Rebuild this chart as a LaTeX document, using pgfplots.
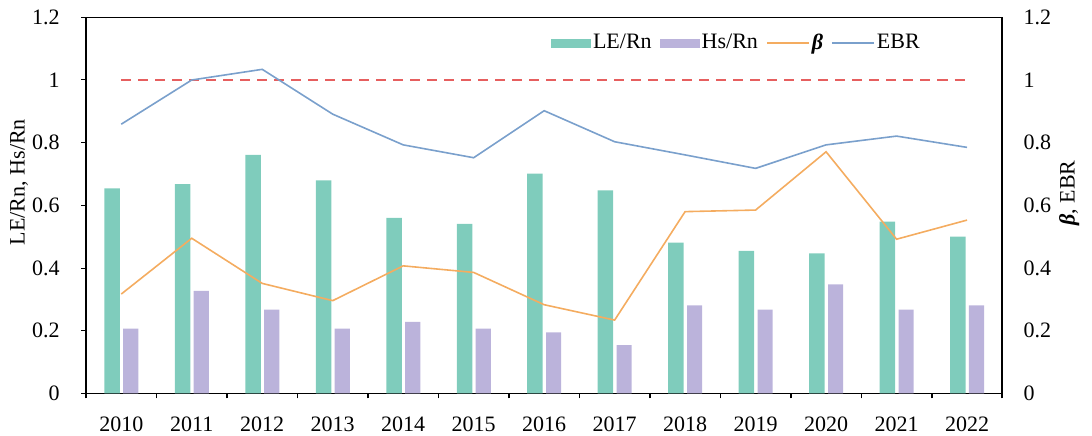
\documentclass[border=0pt]{standalone}
\usepackage{pgfplots}
\pgfplotsset{compat=1.18}
\usepackage{fontspec}
\setmainfont{Liberation Serif}
\definecolor{teal1}{RGB}{127,204,188}
\definecolor{purp}{RGB}{187,179,219}
\definecolor{orng}{RGB}{244,172,96}
\definecolor{blu}{RGB}{122,160,204}
\definecolor{redd}{RGB}{230,95,95}
\begin{document}
\fontsize{11}{13.2}\selectfont
\begin{tikzpicture}
\begin{axis}[name=main,
  scale only axis, width=458pt, height=188pt,
  xmin=-0.5, xmax=12.5, ymin=0, ymax=1.2,
  axis line style={line width=0.8pt},
  xtick={0,1,2,3,4,5,6,7,8,9,10,11,12},
  xticklabels={2010,2011,2012,2013,2014,2015,2016,2017,2018,2019,2020,2021,2022},
  major x tick style={draw=none},
  minor xtick={-0.5,0.5,1.5,2.5,3.5,4.5,5.5,6.5,7.5,8.5,9.5,10.5,11.5,12.5},
  minor x tick style={black, line width=0.8pt},
  minor tick length=2.5pt,
  major tick length=2.5pt,
  tick align=outside,
  xtick pos=lower, ytick pos=left,
  ytick={0,0.2,0.4,0.6,0.8,1,1.2},
  y tick style={black, line width=0.5pt},
  /pgf/number format/assume math mode=true,
  xticklabel style={inner sep=0pt, yshift=-9pt},
  yticklabel style={inner sep=0pt, xshift=-10.5pt},
  ylabel={LE/Rn, Hs/Rn},
  ylabel style={at={(axis description cs:-0.0731,0.562)}, anchor=center},
  legend columns=4,
  legend style={at={(axis description cs:0.5075,0.931)}, anchor=west,
    draw=none, fill=none, inner sep=0pt, outer sep=0pt,
    nodes={inner sep=1pt, anchor=west},
    /tikz/every even column/.append style={column sep=3pt}},
]
\addplot[ybar, fill=teal1, draw=none, bar width=0.22, bar shift=-0.13,
  legend image code/.code={\fill[teal1] (0pt,-2.3pt) rectangle (20pt,2.3pt);}]
  coordinates {(0,0.654) (1,0.668) (2,0.761) (3,0.680) (4,0.560) (5,0.541) (6,0.701)
               (7,0.648) (8,0.481) (9,0.455) (10,0.447) (11,0.548) (12,0.500)};
\addlegendentry{LE/Rn}
\addplot[ybar, fill=purp, draw=none, bar width=0.215, bar shift=0.135,
  legend image code/.code={\fill[purp] (0pt,-2.3pt) rectangle (20pt,2.3pt);}]
  coordinates {(0,0.207) (1,0.327) (2,0.267) (3,0.207) (4,0.228) (5,0.207) (6,0.195)
               (7,0.154) (8,0.281) (9,0.267) (10,0.348) (11,0.267) (12,0.281)};
\addlegendentry{Hs/Rn}
\addplot[redd, line width=1pt, dash pattern=on 5pt off 3.5pt, forget plot]
  coordinates {(0,1) (12,1)};
\addplot[orng, line width=0.8pt,
  legend image code/.code={\draw[orng, line width=0.9pt] (0pt,0pt) -- (21pt,0pt);}]
  coordinates {(0,0.317) (1,0.495) (2,0.351) (3,0.296) (4,0.407) (5,0.386) (6,0.283)
               (7,0.234) (8,0.580) (9,0.585) (10,0.771) (11,0.492) (12,0.553)};
\addlegendentry{\textbf{\textit{β}}}
\addplot[blu, line width=0.8pt,
  legend image code/.code={\draw[blu, line width=0.9pt] (0pt,0pt) -- (21pt,0pt);}]
  coordinates {(0,0.859) (1,1.000) (2,1.034) (3,0.891) (4,0.793) (5,0.752) (6,0.902)
               (7,0.803) (8,0.761) (9,0.718) (10,0.793) (11,0.821) (12,0.785)};
\addlegendentry{EBR}
\end{axis}
\begin{axis}[
  scale only axis, width=458pt, height=188pt,
  at={(main.south west)}, anchor=south west,
  xmin=-0.5, xmax=12.5, ymin=0, ymax=1.2,
  axis x line=none, axis y line*=right,
  axis line style={line width=0.8pt, -},
  ytick={0,0.2,0.4,0.6,0.8,1,1.2},
  major tick length=0pt,
  /pgf/number format/assume math mode=true,
  yticklabel style={inner sep=0pt, xshift=10.5pt},
  ylabel={\textbf{\textit{β}}, EBR},
  ylabel style={at={(axis description cs:1.0731,0.533)}, anchor=center},
]
\end{axis}
\pgfresetboundingbox
\path[use as bounding box] ([xshift=-43pt,yshift=-20.85pt]main.south west) rectangle ([xshift=44.85pt,yshift=8.65pt]main.north east);
\end{tikzpicture}
\end{document}
